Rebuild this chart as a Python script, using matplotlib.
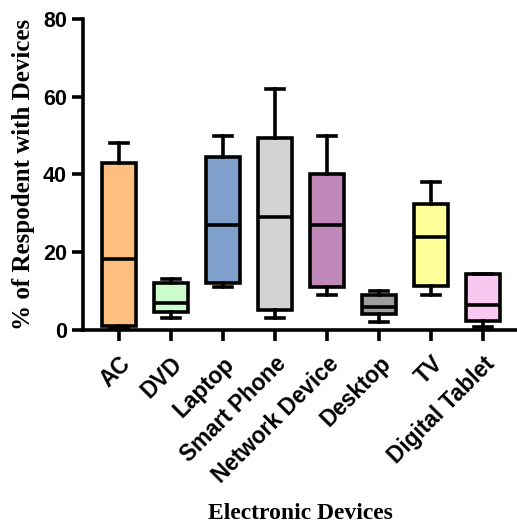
import matplotlib.pyplot as plt

# Box statistics (% of respondents)
devices = ['AC', 'DVD', 'Laptop', 'Smart Phone', 'Network Device',
           'Desktop', 'TV', 'Digital Tablet']
whis_lo = [0.5, 3, 11, 3, 9, 2, 9, 0.8]
q1 = [1, 4.5, 12, 5, 11, 4, 11.3, 2.4]
median = [18.3, 7, 27, 29, 27, 6, 24, 6.4]
q3 = [43, 12, 44.5, 49.5, 40, 9, 32.4, 14.4]
whis_hi = [48, 13, 50, 62, 50, 10, 38, 14.4]
colors = ['#FDBF80', '#CCFCCC', '#7F9FCC', '#D3D3D3', '#C088B8',
          '#9E9E9E', '#FFFF99', '#F8C8F0']

stats = []
for i, name in enumerate(devices):
    stats.append(dict(label=name, whislo=whis_lo[i], q1=q1[i], med=median[i],
                      q3=q3[i], whishi=whis_hi[i], fliers=[]))

fig = plt.figure(figsize=(5.17, 5.27), dpi=100)
ax = fig.add_axes([0.1605, 0.374, 0.8395, 0.59])

lw = 2.6
bp = ax.bxp(stats, positions=range(1, 9), widths=0.65, patch_artist=True,
            showfliers=False,
            boxprops=dict(linewidth=lw, edgecolor='black'),
            medianprops=dict(linewidth=lw, color='black'),
            whiskerprops=dict(linewidth=lw, color='black'),
            capprops=dict(linewidth=lw, color='black'),
            capwidths=0.35)
for patch, c in zip(bp['boxes'], colors):
    patch.set_facecolor(c)

ax.set_xlim(0.31, 8.65)
ax.set_ylim(0, 80)
ax.set_yticks([0, 20, 40, 60, 80])
ax.spines['top'].set_visible(False)
ax.spines['right'].set_visible(False)
ax.spines['left'].set_linewidth(lw)
ax.spines['bottom'].set_linewidth(lw)
ax.tick_params(axis='both', length=8, width=lw)
ax.tick_params(axis='x', pad=8)

for t in ax.get_yticklabels():
    t.set_fontfamily('Liberation Sans')
    t.set_fontweight('bold')
    t.set_fontsize(15.5)
ax.set_xticks(range(1, 9))
ax.set_xticklabels(devices, rotation=45, ha='right', rotation_mode='anchor',
                   fontfamily='Liberation Sans', fontweight='bold', fontsize=16.3)

ax.set_ylabel('% of Respodent with Devices', fontfamily='Liberation Serif',
              fontweight='bold', fontsize=18, labelpad=6)
ax.set_xlabel('Electronic Devices', fontfamily='Liberation Serif',
              fontweight='bold', fontsize=17, labelpad=11)

plt.savefig('out.png', dpi=100)
